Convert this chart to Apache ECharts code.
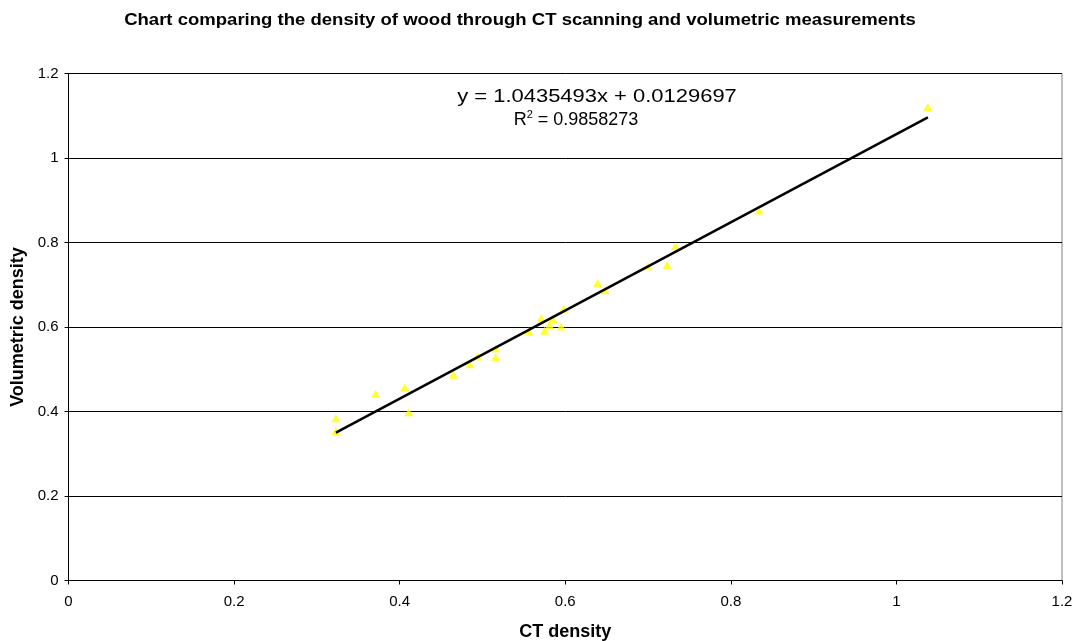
<!DOCTYPE html>
<html>
<head>
<meta charset="utf-8">
<script src="https://cdn.jsdelivr.net/npm/echarts@6/dist/echarts.min.js"></script>
<style>html,body{margin:0;padding:0;background:#fff}#c{width:1078px;height:641px}</style>
</head>
<body>
<div id="c"></div>
<script>
const ctDensity = [0.323,0.323,0.371,0.406,0.411,0.465,0.485,0.494,0.516,0.516,0.556,0.571,0.575,0.581,0.585,0.595,0.598,0.639,0.648,0.700,0.723,0.733,0.834,1.038];
const volDensity = [0.384,0.354,0.442,0.457,0.398,0.487,0.512,0.530,0.550,0.529,0.590,0.621,0.591,0.605,0.619,0.601,0.643,0.704,0.687,0.744,0.747,0.791,0.876,1.121];
const trendX = [0.323, 1.038];
const trendY = [0.350, 1.096];
const eqLine1 = 'y = 1.0435493x + 0.0129697';
const eqLine2 = '0.9858273';
const titleText = 'Chart comparing the density of wood through CT scanning and volumetric measurements';

const chart = echarts.init(document.getElementById('c'));
const font = 'Liberation Sans, Arial, sans-serif';
chart.setOption({
  animation: false,
  backgroundColor: '#fff',
  grid: {left: 68.5, right: 16, top: 73.5, bottom: 60.5, containLabel: false, outerBoundsMode: 'none',
         show: true, borderColor: '#808080', borderWidth: 1},
  xAxis: {
    type: 'value', min: 0, max: 1.2, interval: 0.2,
    name: 'CT density', nameLocation: 'middle', nameGap: 43,
    nameTextStyle: {fontFamily: font, fontSize: 18, fontWeight: 'bold', color: '#000'},
    axisLine: {onZero: false, lineStyle: {color: '#000'}},
    axisTick: {show: true, length: 4, lineStyle: {color: '#000'}},
    axisLabel: {fontFamily: font, fontSize: 15, color: '#000', margin: 14, formatter: v => String(+v.toFixed(1))},
    splitLine: {show: false}
  },
  yAxis: {
    type: 'value', min: 0, max: 1.2, interval: 0.2,
    name: 'Volumetric density', nameLocation: 'middle', nameGap: 40,
    nameTextStyle: {fontFamily: font, fontSize: 18, fontWeight: 'bold', color: '#000'},
    axisLine: {show: true, onZero: false, lineStyle: {color: '#000'}},
    axisTick: {show: true, length: 4, lineStyle: {color: '#000'}},
    axisLabel: {fontFamily: font, fontSize: 15, color: '#000', margin: 10, formatter: v => String(+v.toFixed(1))},
    splitLine: {show: true, lineStyle: {color: '#000', width: 1}}
  },
  series: [
    {
      type: 'scatter', symbol: 'triangle', symbolSize: [9, 8],
      itemStyle: {color: '#FFFF00'},
      data: ctDensity.map((x, i) => [x, volDensity[i]]), z: 3
    },
    {
      type: 'line', showSymbol: false, symbol: 'none',
      lineStyle: {color: '#000', width: 2.5},
      data: trendX.map((x, i) => [x, trendY[i]]), z: 4
    }
  ],
  graphic: [
    {type: 'text', x: 520, y: 20, scaleX: 1.09, style: {text: titleText, font: 'bold 17px ' + font, fill: '#000', align: 'center', verticalAlign: 'middle'}},
    {type: 'text', x: 597, y: 97, scaleX: 1.22, style: {text: eqLine1, font: '18px ' + font, fill: '#000', align: 'center', verticalAlign: 'middle'}},
    {type: 'text', x: 576, y: 119, style: {
      text: '{r|R}{s|2}{r| = ' + eqLine2 + '}', align: 'center', verticalAlign: 'middle', fill: '#000',
      rich: {r: {fontFamily: font, fontSize: 18, color: '#000', verticalAlign: 'bottom', lineHeight: 20},
             s: {fontFamily: font, fontSize: 11, color: '#000', verticalAlign: 'top', lineHeight: 20}}
    }}
  ]
});
</script>
</body>
</html>
